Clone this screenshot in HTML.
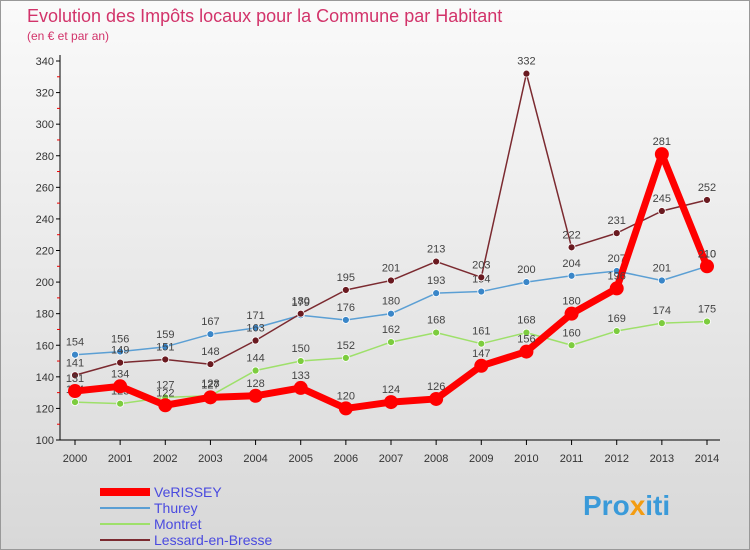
<!DOCTYPE html>
<html><head><meta charset="utf-8"><style>
body{margin:0;width:750px;height:550px;overflow:hidden;font-family:"Liberation Sans",sans-serif}
#frame{position:absolute;left:0;top:0;width:748px;height:548px;border:1px solid #999;background:linear-gradient(#fafafa,#d8d8d8)}
</style></head><body>
<div id="frame"></div>
<svg id="c" width="750" height="550" style="position:absolute;left:0;top:0" font-family="Liberation Sans, sans-serif">
<text x="27" y="22" font-size="18" fill="#d2336a">Evolution des Impôts locaux pour la Commune par Habitant</text>
<text x="27" y="40" font-size="12" fill="#d2336a">(en € et par an)</text>
<g id="axes"></g><g id="series"></g><g id="legend"></g>
<text x="583" y="515" font-size="28" font-weight="bold" fill="#3a9ad9">Pro<tspan fill="#f39c12">x</tspan>iti</text>
</svg>
<script>
const years=[2000,2001,2002,2003,2004,2005,2006,2007,2008,2009,2010,2011,2012,2013,2014];
const yTicks=[100,120,140,160,180,200,220,240,260,280,300,320,340];
const verissey=[131,134,122,127,128,133,120,124,126,147,156,180,196,281,210];
const thurey=[154,156,159,167,171,179,176,180,193,194,200,204,207,201,210];
const montret=[124,123,127,128,144,150,152,162,168,161,168,160,169,174,175];
const lessard=[141,149,151,148,163,180,195,201,213,203,332,222,231,245,252];
const names=["VeRISSEY","Thurey","Montret","Lessard-en-Bresse"];
const NS="http://www.w3.org/2000/svg";
const X=y=>75+(y-2000)*(632/14), Y=v=>440-(v-100)*(379/240);
function mk(t,a,p){const e=document.createElementNS(NS,t);for(const k in a)e.setAttribute(k,a[k]);p.appendChild(e);return e;}
const ax=document.getElementById('axes');
let e=mk('line',{x1:60,y1:55,x2:60,y2:440,stroke:'#000'},ax);

e=mk('line',{x1:60,y1:440,x2:720,y2:440,stroke:'#000'},ax);

yTicks.forEach(v=>{mk('line',{x1:56,y1:Y(v),x2:60,y2:Y(v),stroke:'#000'},ax);
 if(v<340)mk('line',{x1:57,y1:Y(v+10),x2:60,y2:Y(v+10),stroke:'#e00'},ax);
 const t=mk('text',{x:54,y:Y(v)+4,'font-size':11,'text-anchor':'end',fill:'#333'},ax);t.textContent=v;
 });
years.forEach(y=>{mk('line',{x1:X(y),y1:440,x2:X(y),y2:445,stroke:'#000'},ax);
 const t=mk('text',{x:X(y),y:462,'font-size':11,'text-anchor':'middle',fill:'#333'},ax);t.textContent=y;
 });
const sg=document.getElementById('series');
const defs=[[thurey,'#5b9fd4','#3a86c8',1.5,3.5,'thurey'],[montret,'#9ee06a','#7ccc3e',1.5,3.5,'montret'],[lessard,'#7b2a30','#6a1a20',1.5,3.5,'lessard'],[verissey,'#ff0000','#ff0000',7,7,'verissey']];
defs.forEach(([d,c,f,w,r,n])=>{
 const g=mk('g',{},sg);
 const p=mk('polyline',{points:d.map((v,i)=>X(years[i])+','+Y(v)).join(' '),fill:'none',stroke:c,'stroke-width':w,'stroke-linejoin':'round'},g);
 
 d.forEach((v,i)=>{const pt=mk('circle',{cx:X(years[i]),cy:Y(v),r:r,fill:f,stroke:n=='verissey'?'#ff0000':'#fff','stroke-width':n=='verissey'?0:0.8},g);
  
  const t=mk('text',{x:X(years[i]),y:Y(v)-9,'font-size':11,'text-anchor':'middle',fill:'#444'},g);t.textContent=v;
  });
});
const lg=document.getElementById('legend');
const lc=['#ff0000','#5b9fd4','#9ee06a','#7b2a30'],lw=[8,2,2,2];
names.forEach((n,i)=>{const y=492+i*16;
 const l=mk('line',{x1:100,y1:y,x2:150,y2:y,stroke:lc[i],'stroke-width':lw[i]},lg);
 
 const t=mk('text',{x:154,y:y+5,'font-size':14,fill:'#4a4adf'},lg);t.textContent=n;
 });
</script>
</body></html>
